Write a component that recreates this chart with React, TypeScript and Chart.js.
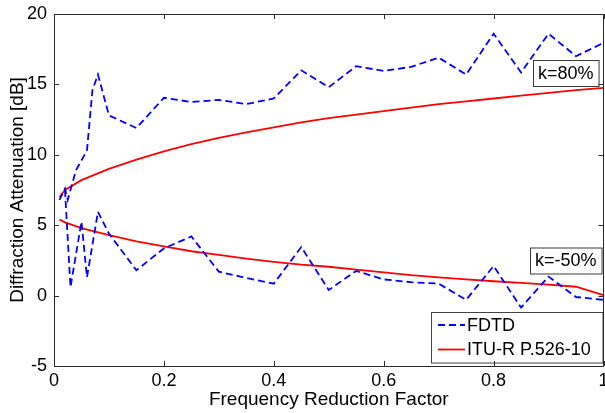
import React, { useEffect, useRef } from "react";
import { Chart, registerables } from "chart.js";

Chart.register(...registerables);

// ---- Data ----
const FDTD_K80_X = [0.01, 0.02, 0.025, 0.04, 0.06, 0.07, 0.08, 0.1, 0.15, 0.2, 0.25, 0.3, 0.35, 0.4, 0.45, 0.5, 0.55, 0.6, 0.65, 0.7, 0.75, 0.8, 0.85, 0.9, 0.95, 1.0];
const FDTD_K80_Y = [6.8, 7.6, 6.8, 8.9, 10.3, 14.6, 15.7, 12.8, 11.9, 14.05, 13.75, 13.9, 13.6, 14.0, 16.0, 14.8, 16.3, 15.95, 16.25, 16.9, 15.7, 18.6, 15.85, 18.6, 17.0, 17.95];

const FDTD_K50_X = [0.02, 0.03, 0.05, 0.06, 0.08, 0.1, 0.15, 0.2, 0.25, 0.3, 0.35, 0.4, 0.45, 0.5, 0.55, 0.6, 0.65, 0.7, 0.75, 0.8, 0.85, 0.9, 0.95, 1.0];
const FDTD_K50_Y = [7.5, 0.6, 5.25, 1.3, 5.95, 4.4, 1.8, 3.35, 4.2, 1.7, 1.25, 0.85, 3.45, 0.4, 1.75, 1.15, 0.95, 0.85, -0.3, 2.1, -0.85, 1.35, -0.1, -0.3];

const ITU_X = [0.01, 0.02, 0.05, 0.1, 0.15, 0.2, 0.25, 0.3, 0.35, 0.4, 0.45, 0.5, 0.55, 0.6, 0.65, 0.7, 0.75, 0.8, 0.85, 0.9, 0.95, 1.0];
const ITU_K80_Y = [7.0, 7.5, 8.2, 9.0, 9.65, 10.25, 10.75, 11.2, 11.6, 11.95, 12.3, 12.6, 12.85, 13.1, 13.35, 13.6, 13.8, 14.0, 14.2, 14.4, 14.6, 14.75];
const ITU_K50_Y = [5.4, 5.2, 4.8, 4.3, 3.85, 3.5, 3.15, 2.9, 2.62, 2.4, 2.2, 2.05, 1.85, 1.65, 1.45, 1.3, 1.15, 1.02, 0.9, 0.78, 0.63, 0.04];

const X_TICKS = [0, 0.2, 0.4, 0.6, 0.8, 1];
const X_TICK_LABELS = ["0", "0.2", "0.4", "0.6", "0.8", "1"];
const Y_TICKS = [-5, 0, 5, 10, 15, 20];
const Y_TICK_LABELS = ["-5", "0", "5", "10", "15", "20"];

const SERIES_NAMES = ["FDTD", "ITU-R P.526-10"];
const ANNOTATION_TEXTS = ["k=80%", "k=-50%"];
const X_TITLE = "Frequency Reduction Factor";
const Y_TITLE = "Diffraction Attenuation [dB]";

const FONT = "'Liberation Sans', Arial, Helvetica, sans-serif";
const BLUE = "#0000ff";
const RED = "#ff0000";
const DASH = [7, 4];

const toPoints = (xs: number[], ys: number[]) => xs.map((x, i) => ({ x, y: ys[i] }));

const boxPlugin = {
  id: "matlabBox",
  afterDatasetsDraw(chart: any) {
    const { ctx, chartArea } = chart;
    const { left, right, top, bottom } = chartArea;
    const xs = chart.scales.x;
    const ys = chart.scales.y;
    ctx.save();

    // annotations
    ctx.font = `18px ${FONT}`;
    ctx.textBaseline = "middle";
    ctx.textAlign = "left";
    const ann = [
      { text: ANNOTATION_TEXTS[0], px: 533, py: 60, h: 26 },
      { text: ANNOTATION_TEXTS[1], px: 530, py: 247.5, h: 26 },
    ];
    for (const a of ann) {
      const w = ctx.measureText(a.text).width + 10;
      ctx.fillStyle = "#ffffff";
      ctx.fillRect(a.px, a.py, w, a.h);
      ctx.strokeStyle = "#3a3a3a";
      ctx.lineWidth = 1;
      ctx.strokeRect(a.px + 0.5, a.py + 0.5, w, a.h);
      ctx.fillStyle = "#000000";
      ctx.fillText(a.text, a.px + 5, a.py + a.h / 2 + 1);
    }

    // legend
    const lx = 431, ly = 312, lw = 171.5, lh = 50.5;
    ctx.fillStyle = "#ffffff";
    ctx.fillRect(lx, ly, lw, lh);
    ctx.strokeStyle = "#444444";
    ctx.lineWidth = 1;
    ctx.strokeRect(lx + 0.5, ly + 0.5, lw, lh);
    const items = [
      { label: SERIES_NAMES[0], color: BLUE, dash: DASH, y: 325 },
      { label: SERIES_NAMES[1], color: RED, dash: [] as number[], y: 349.5 },
    ];
    for (const it of items) {
      ctx.beginPath();
      ctx.setLineDash(it.dash);
      ctx.strokeStyle = it.color;
      ctx.lineWidth = 1.8;
      ctx.moveTo(438, it.y);
      ctx.lineTo(465, it.y);
      ctx.stroke();
      ctx.setLineDash([]);
      ctx.fillStyle = "#000000";
      ctx.fillText(it.label, 467, it.y + 1);
    }

    // axes box and inward ticks
    ctx.strokeStyle = "#2a2a2a";
    ctx.lineWidth = 1;
    ctx.beginPath();
    ctx.rect(Math.round(left) + 0.5, Math.round(top) + 0.5, Math.round(right - left) - 1, Math.round(bottom - top));
    const tl = 5;
    for (const v of X_TICKS) {
      const p = Math.round(xs.getPixelForValue(v)) + 0.5;
      ctx.moveTo(p, bottom);
      ctx.lineTo(p, bottom - tl);
      ctx.moveTo(p, top);
      ctx.lineTo(p, top + tl);
    }
    for (const v of Y_TICKS) {
      const p = Math.round(ys.getPixelForValue(v)) + 0.5;
      ctx.moveTo(left, p);
      ctx.lineTo(left + tl, p);
      ctx.moveTo(right, p);
      ctx.lineTo(right - tl, p);
    }
    ctx.stroke();
    ctx.restore();
  },
};

export default function App() {
  const ref = useRef<HTMLCanvasElement | null>(null);

  useEffect(() => {
    if (!ref.current) return;
    const chart = new Chart(ref.current, {
      type: "scatter",
      data: {
        datasets: [
          {
            label: SERIES_NAMES[0],
            data: toPoints(FDTD_K80_X, FDTD_K80_Y),
            showLine: true,
            borderColor: BLUE,
            borderWidth: 1.8,
            borderDash: DASH,
            pointRadius: 0,
            tension: 0,
          },
          {
            label: SERIES_NAMES[0],
            data: toPoints(FDTD_K50_X, FDTD_K50_Y),
            showLine: true,
            borderColor: BLUE,
            borderWidth: 1.8,
            borderDash: DASH,
            pointRadius: 0,
            tension: 0,
          },
          {
            label: SERIES_NAMES[1],
            data: toPoints(ITU_X, ITU_K80_Y),
            showLine: true,
            borderColor: RED,
            borderWidth: 1.8,
            pointRadius: 0,
            tension: 0,
          },
          {
            label: SERIES_NAMES[1],
            data: toPoints(ITU_X, ITU_K50_Y),
            showLine: true,
            borderColor: RED,
            borderWidth: 1.8,
            pointRadius: 0,
            tension: 0,
          },
        ],
      },
      options: {
        animation: false,
        responsive: false,
        maintainAspectRatio: false,
        layout: { padding: { top: 14, right: 1.5, left: 0, bottom: 0 } },
        plugins: {
          legend: { display: false },
          tooltip: { enabled: false },
        },
        scales: {
          x: {
            type: "linear",
            min: 0,
            max: 1,
            afterBuildTicks: (s: any) => {
              s.ticks = X_TICKS.map((v) => ({ value: v }));
            },
            afterFit: (s: any) => {
              s.height = 47;
              s.paddingLeft = 0;
              s.paddingRight = 0;
            },
            grid: { display: false, drawTicks: false },
            border: { display: false },
            ticks: {
              padding: 4,
              color: "#000000",
              font: { family: FONT, size: 18 },
              maxRotation: 0,
              autoSkip: false,
              callback: (v: any) => X_TICK_LABELS[X_TICKS.indexOf(Number(v))] ?? "",
            },
            title: {
              display: true,
              text: X_TITLE,
              color: "#000000",
              font: { family: FONT, size: 19 },
              padding: { top: 0, bottom: 2 },
            },
          },
          y: {
            type: "linear",
            min: -5,
            max: 20,
            afterBuildTicks: (s: any) => {
              s.ticks = Y_TICKS.map((v) => ({ value: v }));
            },
            afterFit: (s: any) => {
              s.width = 54;
              s.paddingTop = 0;
              s.paddingBottom = 0;
            },
            grid: { display: false, drawTicks: false },
            border: { display: false },
            ticks: {
              padding: 7,
              color: "#000000",
              font: { family: FONT, size: 18 },
              autoSkip: false,
              callback: (v: any) => Y_TICK_LABELS[Y_TICKS.indexOf(Number(v))] ?? "",
            },
            title: {
              display: true,
              text: Y_TITLE,
              color: "#000000",
              font: { family: FONT, size: 19 },
              padding: { top: 6, bottom: 0 },
            },
          },
        },
      },
      plugins: [boxPlugin],
    } as any);
    return () => chart.destroy();
  }, []);

  return (
    <div style={{ position: "fixed", left: 0, top: 0, width: 605, height: 413, background: "#ffffff" }}>
      <canvas ref={ref} width={605} height={413} style={{ width: 605, height: 413, display: "block" }} />
    </div>
  );
}
